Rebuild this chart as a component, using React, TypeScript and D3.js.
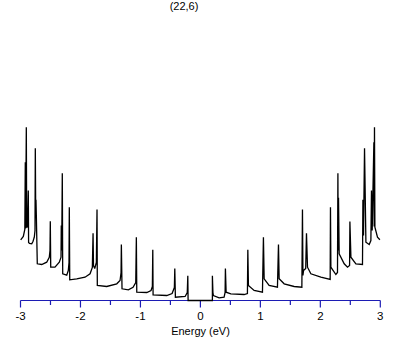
import * as d3 from 'd3';

// density of states: [energy (eV), DOS (arb. units)]
const dosValence: [number, number][] = [
  [-2.997, 0.607], [-2.953, 0.64], [-2.928, 0.71], [-2.92, 1.383], [-2.915, 0.72],
  [-2.903, 1.733], [-2.897, 0.73], [-2.883, 0.74], [-2.87, 1.1], [-2.865, 0.58],
  [-2.85, 0.57], [-2.813, 0.567], [-2.792, 0.59], [-2.77, 0.633], [-2.758, 0.7],
  [-2.753, 1.523], [-2.746, 0.85], [-2.742, 1.007], [-2.735, 0.82], [-2.72, 0.367],
  [-2.646, 0.36], [-2.563, 0.383], [-2.52, 0.433], [-2.508, 0.5], [-2.503, 0.793],
  [-2.496, 0.333], [-2.425, 0.333], [-2.353, 0.383], [-2.324, 0.433], [-2.32, 0.75],
  [-2.313, 0.5], [-2.303, 1.273], [-2.296, 0.267], [-2.229, 0.253], [-2.203, 0.3],
  [-2.191, 0.38], [-2.186, 0.933], [-2.179, 0.207], [-2.062, 0.217], [-1.924, 0.233],
  [-1.84, 0.267], [-1.802, 0.33], [-1.79, 0.673], [-1.783, 0.35], [-1.762, 0.32],
  [-1.735, 0.38], [-1.724, 0.91], [-1.719, 0.15], [-1.562, 0.14], [-1.395, 0.167],
  [-1.34, 0.2], [-1.323, 0.28], [-1.318, 0.56], [-1.307, 0.117], [-1.201, 0.107],
  [-1.123, 0.133], [-1.078, 0.18], [-1.068, 0.633], [-1.061, 0.083], [-0.894, 0.08],
  [-0.823, 0.1], [-0.801, 0.14], [-0.794, 0.507], [-0.789, 0.057], [-0.561, 0.05],
  [-0.472, 0.07], [-0.434, 0.13], [-0.427, 0.32], [-0.417, 0.033], [-0.255, 0.04],
  [-0.219, 0.08], [-0.21, 0.247], [-0.205, 0],
];

const dosConduction: [number, number][] = [
  [0.2, 0], [0.2, 0.247], [0.209, 0.08], [0.217, 0.05], [0.312, 0.027],
  [0.395, 0.033], [0.412, 0.08], [0.417, 0.32], [0.429, 0.083], [0.507, 0.067],
  [0.729, 0.06], [0.784, 0.07], [0.791, 0.507], [0.801, 0.15], [0.896, 0.1],
  [1.035, 0.083], [1.051, 0.633], [1.063, 0.217], [1.146, 0.15], [1.285, 0.133],
  [1.302, 0.56], [1.313, 0.217], [1.397, 0.167], [1.563, 0.14], [1.692, 0.133],
  [1.702, 0.91], [1.71, 0.25], [1.72, 0.3], [1.756, 0.32], [1.769, 0.673],
  [1.786, 0.333], [1.842, 0.267], [2.009, 0.233], [2.164, 0.21], [2.169, 0.933],
  [2.176, 0.333], [2.259, 0.26], [2.286, 0.28], [2.293, 1.273], [2.298, 0.5],
  [2.303, 1.027], [2.314, 0.467], [2.398, 0.367], [2.453, 0.333], [2.488, 0.35],
  [2.493, 0.79], [2.51, 0.433], [2.593, 0.367], [2.703, 0.36], [2.71, 1.007],
  [2.72, 0.65], [2.737, 1.523], [2.76, 0.583], [2.815, 0.56], [2.843, 0.6],
  [2.853, 1.1], [2.865, 0.7], [2.893, 1.583], [2.898, 0.74], [2.903, 1.733],
  [2.91, 0.733], [2.953, 0.633], [2.993, 0.607],
];

const majorTicks = [-3, -2, -1, 0, 1, 2, 3];
const minorTicks = [-2.5, -1.5, -0.5, 0.5, 1.5, 2.5];
const title = '(22,6)';
const xLabel = 'Energy (eV)';

const W = 409;
const H = 345;
const FONT = '"Liberation Sans", Arial, sans-serif';
const AXIS = '#1c1cb4';

export default function App() {
  const x = d3.scaleLinear().domain([-3, 3]).range([20.5, 380.3]);
  const y = d3.scaleLinear().domain([0, 1.9]).range([300.5, 110.5]);

  const line = d3.line<[number, number]>()
    .x(d => x(d[0]))
    .y(d => y(d[1]));

  const curve = [...dosValence, ...dosConduction];
  const y0 = y(0);

  return (
    <svg width={W} height={H} style={{ position: 'absolute', left: 0, top: 0, background: '#fff' }}>
      <text x={184} y={10} textAnchor="middle" fontFamily={FONT} fontSize={11} fill="#000">{title}</text>

      <line x1={x(-3)} x2={x(3)} y1={y0} y2={y0} stroke={AXIS} strokeWidth={1.2} />
      {majorTicks.map(t => (
        <g key={'M' + t}>
          <line x1={x(t)} x2={x(t)} y1={y0} y2={y0 + 7} stroke={AXIS} strokeWidth={1.2} />
          <text x={x(t)} y={319.5} textAnchor="middle" fontFamily={FONT} fontSize={11.5} fill="#000">
            {t < 0 ? '-' + Math.abs(t) : String(t)}
          </text>
        </g>
      ))}
      {minorTicks.map(t => (
        <line key={'m' + t} x1={x(t)} x2={x(t)} y1={y0} y2={y0 + 4.5} stroke={AXIS} strokeWidth={1.2} />
      ))}
      <text x={200.5} y={334.5} textAnchor="middle" fontFamily={FONT} fontSize={11} fill="#000">{xLabel}</text>

      <path d={line(curve) ?? ''} fill="none" stroke="#000" strokeWidth={1.3} strokeLinejoin="miter" strokeMiterlimit={2} />
    </svg>
  );
}
